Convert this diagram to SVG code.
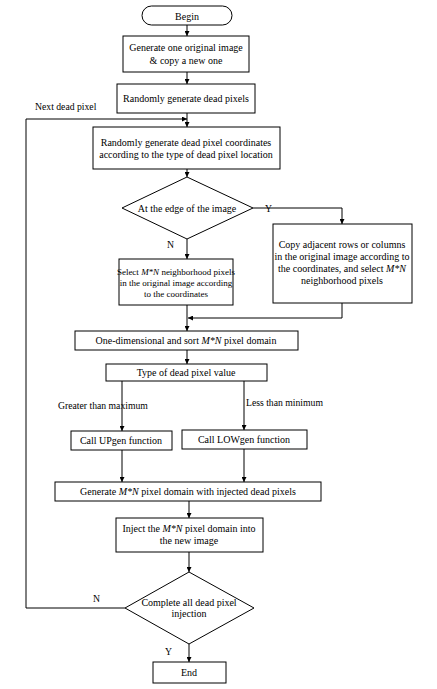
<svg xmlns="http://www.w3.org/2000/svg" width="437" height="689" viewBox="0 0 437 689">
<defs>
<marker id="ah" viewBox="0 0 8 8" refX="8" refY="4" markerWidth="5" markerHeight="5" orient="auto" markerUnits="userSpaceOnUse">
<path d="M0,0 L8,4 L0,8 z" fill="#000"/>
</marker>
<style>
.n{fill:#fff;stroke:#000;stroke-width:1}
.t{font-family:"Liberation Serif","Times New Roman",serif;font-size:10px;fill:#000;text-anchor:middle}
.s{font-size:9px}
.l{font-family:"Liberation Serif","Times New Roman",serif;font-size:9.7px;fill:#000}
.c{fill:none;stroke:#000;stroke-width:1}
.i{font-style:italic}
</style>
</defs>
<rect width="437" height="689" fill="#fff"/>
<g id="connectors">
<path class="c" d="M187,25 V36" marker-end="url(#ah)"/>
<path class="c" d="M187,72 V84" marker-end="url(#ah)"/>
<path class="c" d="M187,113 V127" marker-end="url(#ah)"/>
<path class="c" d="M187,169 V177" marker-end="url(#ah)"/>
<path class="c" d="M253,208 H342 V224" marker-end="url(#ah)"/>
<path class="c" d="M187,239 V259" marker-end="url(#ah)"/>
<path class="c" d="M187,305 V331" marker-end="url(#ah)"/>
<path class="c" d="M342,303 V318 H188" marker-end="url(#ah)"/>
<path class="c" d="M187,350 V364" marker-end="url(#ah)"/>
<path class="c" d="M122,381 V431" marker-end="url(#ah)"/>
<path class="c" d="M244,381 V430" marker-end="url(#ah)"/>
<path class="c" d="M122,450 V482" marker-end="url(#ah)"/>
<path class="c" d="M244,449 V482" marker-end="url(#ah)"/>
<path class="c" d="M189,501 V518" marker-end="url(#ah)"/>
<path class="c" d="M189,552 V572" marker-end="url(#ah)"/>
<path class="c" d="M189,644 V662" marker-end="url(#ah)"/>
<path class="c" d="M125,608 H26 V119 H187" marker-end="url(#ah)"/>
<text class="l" x="35" y="110">Next dead pixel</text>
<text class="l" x="265" y="212">Y</text>
<text class="l" x="167" y="248">N</text>
<text class="l" x="58" y="409">Greater than maximum</text>
<text class="l" x="246" y="406">Less than minimum</text>
<text class="l" x="93" y="602">N</text>
<text class="l" x="165" y="655">Y</text>
</g>
<g id="begin">
<rect class="n" x="142" y="6" width="90" height="19" rx="9.5"/>
<text class="t" x="187" y="19.5">Begin</text>
</g>
<g id="gen-image">
<rect class="n" x="123" y="36" width="126" height="36"/>
<text class="t" x="186" y="51">Generate one original image</text>
<text class="t" x="186" y="64">&amp; copy a new one</text>
</g>
<g id="gen-dead">
<rect class="n" x="117" y="84" width="138" height="29"/>
<text class="t" x="186" y="102">Randomly generate dead pixels</text>
</g>
<g id="gen-coords">
<rect class="n" x="93" y="127" width="187" height="42"/>
<text class="t" x="186" y="146">Randomly generate dead pixel coordinates</text>
<text class="t" x="186" y="158">according to the type of dead pixel location</text>
</g>
<g id="edge-decision">
<polygon class="n" points="187,177 253,208 187,239 122,208"/>
<text class="t" x="187" y="212">At the edge of the image</text>
</g>
<g id="copy-adjacent">
<rect class="n" x="273" y="224" width="139" height="79"/>
<text class="t" x="342" y="248">Copy adjacent rows or columns</text>
<text class="t" x="342" y="260">in the original image according to</text>
<text class="t" x="342" y="272">the coordinates, and select <tspan class="i">M*N</tspan></text>
<text class="t" x="342" y="284">neighborhood pixels</text>
</g>
<g id="select-neighborhood">
<rect class="n" x="119" y="259" width="114" height="46"/>
<text class="t s" x="176" y="275">Select <tspan class="i">M*N</tspan> neighborhood pixels</text>
<text class="t s" x="176" y="286">in the original image according</text>
<text class="t s" x="176" y="297">to the coordinates</text>
</g>
<g id="sort">
<rect class="n" x="75" y="331" width="223" height="19"/>
<text class="t" x="186" y="344">One-dimensional and sort <tspan class="i">M*N</tspan> pixel domain</text>
</g>
<g id="type-value">
<rect class="n" x="106" y="364" width="161" height="17"/>
<text class="t" x="186" y="376">Type of dead pixel value</text>
</g>
<g id="upgen">
<rect class="n" x="71" y="431" width="101" height="19"/>
<text class="t" x="121" y="444">Call UPgen function</text>
</g>
<g id="lowgen">
<rect class="n" x="182" y="430" width="125" height="19"/>
<text class="t" x="244" y="443">Call LOWgen function</text>
</g>
<g id="gen-domain">
<rect class="n" x="55" y="482" width="266" height="19"/>
<text class="t" x="188" y="495">Generate <tspan class="i">M*N</tspan> pixel domain with injected dead pixels</text>
</g>
<g id="inject">
<rect class="n" x="116" y="518" width="147" height="34"/>
<text class="t" x="189" y="532">Inject the <tspan class="i">M*N</tspan> pixel domain into</text>
<text class="t" x="189" y="544">the new image</text>
</g>
<g id="complete-decision">
<polygon class="n" points="189,572 254,608 189,644 125,608"/>
<text class="t" x="189" y="606">Complete all dead pixel</text>
<text class="t" x="189" y="617">injection</text>
</g>
<g id="end">
<rect class="n" x="153" y="662" width="73" height="21"/>
<text class="t" x="189" y="676">End</text>
</g>
</svg>
